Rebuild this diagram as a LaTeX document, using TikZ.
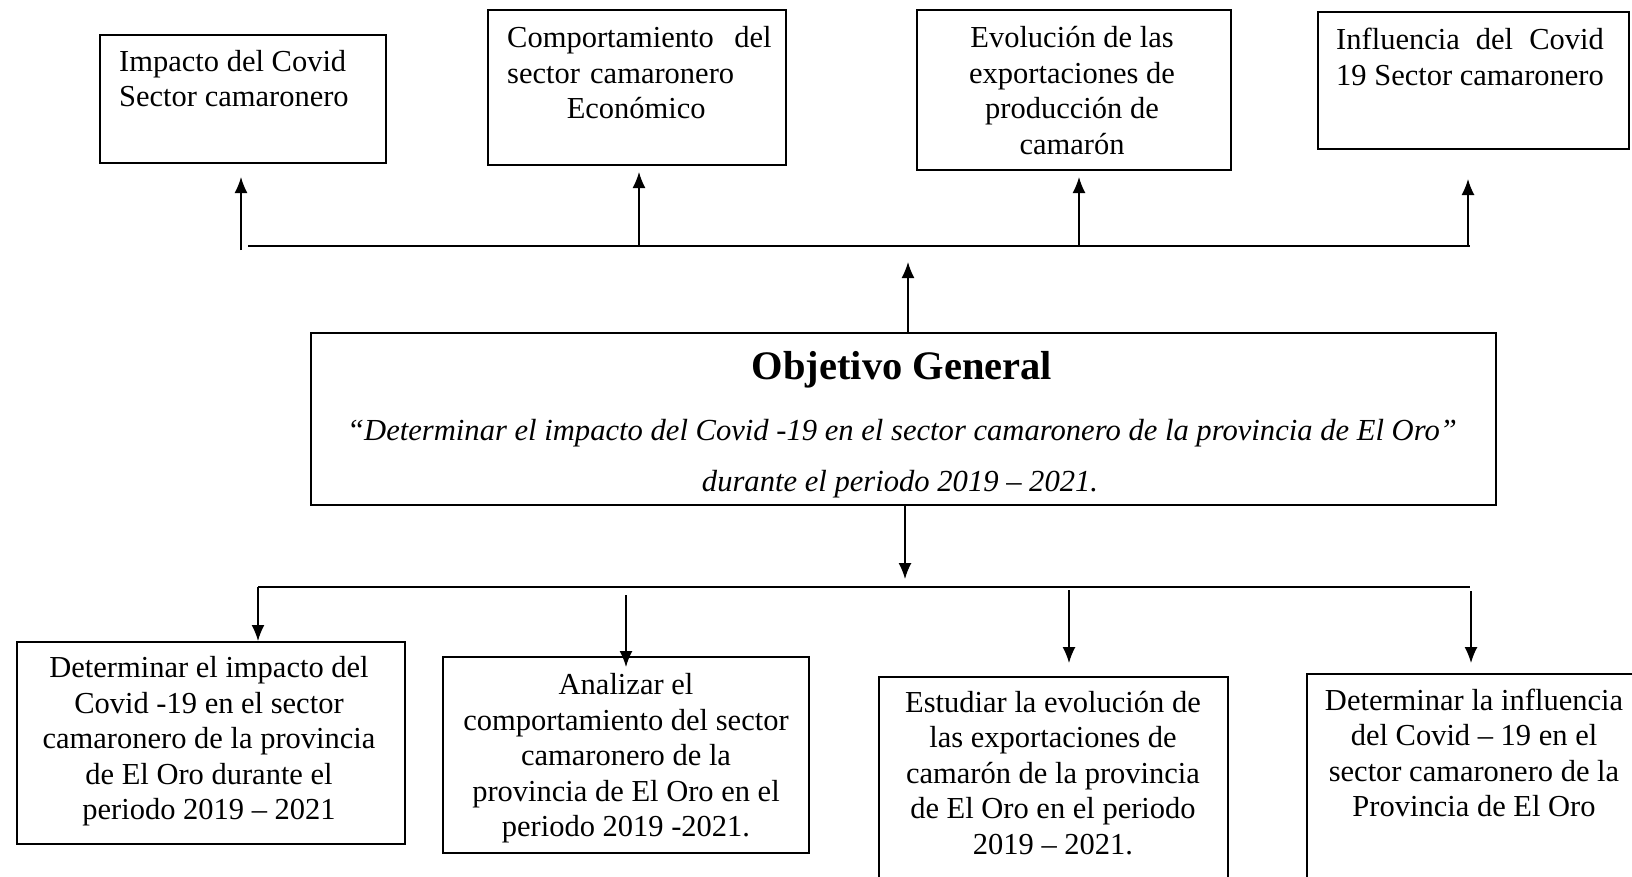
\documentclass[tikz,border=0pt]{standalone}
\usepackage{fontspec}
\setmainfont{Liberation Serif}
\usetikzlibrary{arrows.meta}
\newlength\myLineW
\tikzset{
  box/.style={draw=black, line width=1.8pt, inner sep=0pt, fill=white},
  txt/.style={inner sep=0pt, font=\fontsize{30.5}{35.5}\selectfont},
  conn/.style={draw=black, line width=1.5pt},
  arr/.style={conn, -{Latex[length=16pt,width=13pt]}}
}
\begin{document}
\begin{tikzpicture}[x=1pt,y=-1pt]
\useasboundingbox (0,0) rectangle (1632,876);
\clip (0,0) rectangle (1632,876);
\fill[white] (0,0) rectangle (1632,876);
% top boxes
\node[box, minimum width=286pt, minimum height=128pt] (t1) at (243,99) {};
\node[box, minimum width=298pt, minimum height=155pt] (t2) at (637,87.5) {};
\node[box, minimum width=314pt, minimum height=160pt] (t3) at (1074,90) {};
\node[box, minimum width=311pt, minimum height=137pt] (t4) at (1473.5,80.5) {};
\node[txt, anchor=west, align=left] (t1t) at (119,78.5) {Impacto del Covid\\Sector camaronero};
\node[txt, anchor=west, align=left, text width=258pt] (t2t) at (507,73)
  {\makebox[258pt][s]{Comportamiento\ \ del}\\sector camaronero\\\makebox[258pt][c]{Económico}};
\node[txt, align=center] (t3t) at (1072,90.75) {Evolución de las\\exportaciones de\\producción de\\camarón};
\node[txt, anchor=west, align=left] (t4t) at (1336,57)
  {\settowidth\myLineW{19 Sector camaronero}\makebox[\myLineW][s]{Influencia\ \ del\ \ Covid}\\19 Sector camaronero};
% central box
\node[box, minimum width=1185pt, minimum height=172pt] (obj) at (903.5,419) {};
\node[inner sep=0pt, font=\fontsize{40.5}{44}\selectfont\bfseries] (objt) at (902,370) {Objetivo General};
\node[txt, font=\fontsize{30.6}{35}\selectfont\itshape] (objq) at (902,433)
  {“Determinar el impacto del Covid -19 en el sector camaronero de la provincia de El Oro”};
\node[txt, font=\fontsize{30.6}{35}\selectfont\itshape] (objd) at (900,484) {durante el periodo 2019 – 2021.};
% bottom boxes
\node[box, minimum width=388pt, minimum height=202pt] (b1) at (211,743) {};
\node[box, minimum width=366pt, minimum height=196pt] (b2) at (626,755) {};
\node[box, minimum width=349pt, minimum height=223pt] (b3) at (1053.5,788.5) {};
\node[box, minimum width=343pt, minimum height=226pt] (b4) at (1478.5,787) {};
\node[txt, align=center] (b1t) at (209,741.5) {Determinar el impacto del\\Covid -19 en el sector\\camaronero de la provincia\\de El Oro durante el\\periodo 2019 – 2021};
\node[txt, align=center] (b2t) at (626,758.5) {Analizar el\\comportamiento del sector\\camaronero de la\\provincia de El Oro en el\\periodo 2019 -2021.};
\node[txt, align=center] (b3t) at (1053,772.75) {Estudiar la evolución de\\las exportaciones de\\camarón de la provincia\\de El Oro en el periodo\\2019 – 2021.};
\node[txt, align=center] (b4t) at (1474,753) {Determinar la influencia\\del Covid – 19 en el\\sector camaronero de la\\Provincia de El Oro};
% upper connectors
\coordinate (hl) at (248,246);
\coordinate (hr) at (1470,246);
\coordinate (u1s) at (241,250); \coordinate (u1e) at (241,177);
\coordinate (u2s) at (639,246); \coordinate (u2e) at (639,172);
\coordinate (u3s) at (1079,246); \coordinate (u3e) at (1079,177);
\coordinate (u4s) at (1468,246); \coordinate (u4e) at (1468,179);
\coordinate (uc) at (908,262);
\draw[conn] (hl) -- (hr);
\draw[arr] (u1s) -- (u1e);
\draw[arr] (u2s) -- (u2e);
\draw[arr] (u3s) -- (u3e);
\draw[arr] (u4s) -- (u4e);
\draw[arr] (obj.north -| uc) -- (uc);
% lower connectors
\coordinate (dc) at (905,579);
\coordinate (ll) at (258,587);
\coordinate (lr) at (1470,587);
\coordinate (d1s) at (258,587); \coordinate (d1e) at (258,641);
\coordinate (d2s) at (626,595); \coordinate (d2e) at (626,667);
\coordinate (d3s) at (1069,590); \coordinate (d3e) at (1069,663);
\coordinate (d4s) at (1471,591); \coordinate (d4e) at (1471,663);
\draw[arr] (obj.south -| dc) -- (dc);
\draw[conn] (ll) -- (lr);
\draw[arr] (d1s) -- (d1e);
\draw[arr] (d2s) -- (d2e);
\draw[arr] (d3s) -- (d3e);
\draw[arr] (d4s) -- (d4e);
\end{tikzpicture}
\end{document}
